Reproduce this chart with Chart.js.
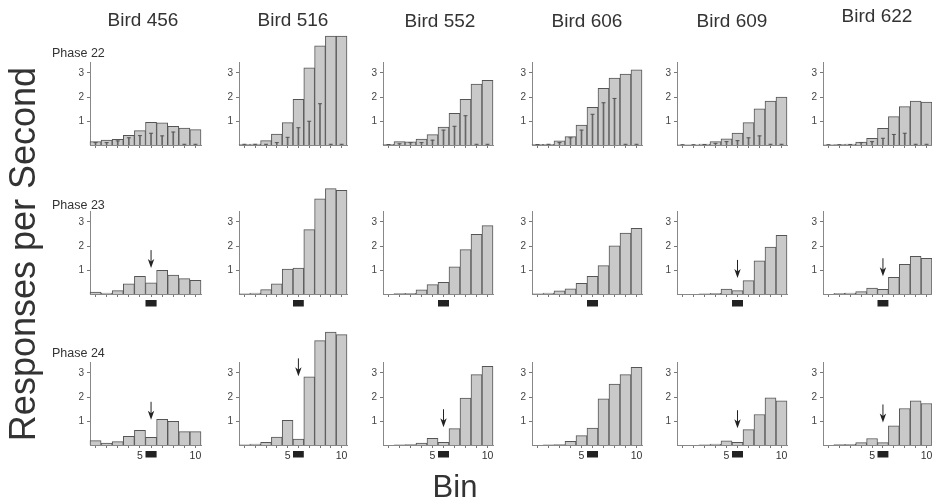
<!DOCTYPE html>
<html>
<head>
<meta charset="utf-8">
<script src="https://cdn.jsdelivr.net/npm/chart.js@4"></script>
<style>
body { margin:0; background:#fff; width:932px; height:504px; overflow:hidden; position:relative;
       font-family:"Liberation Sans", Arial, sans-serif; color:#222; }
.panel { position:absolute; }
.lbl { position:absolute; white-space:nowrap; transform:translate(-50%,-50%); }
</style>
</head>
<body>
<script>
// ---- data ----
var bins = ['1','2','3','4','5','6','7','8','9','10'];
var birds = ['Bird 456','Bird 516','Bird 552','Bird 606','Bird 609','Bird 622'];
var phases = ['Phase 22','Phase 23','Phase 24'];

// responses per second, one row per bird
var phase22Rates = [
  [0.14,0.2,0.24,0.4,0.6,0.94,0.92,0.78,0.71,0.64],
  [0.02,0.04,0.18,0.46,0.93,1.9,3.22,4.13,4.54,4.54],
  [0.03,0.14,0.13,0.25,0.43,0.75,1.32,1.9,2.54,2.69],
  [0.03,0.03,0.17,0.35,0.83,1.57,2.36,2.79,2.96,3.13],
  [0.01,0.01,0.04,0.14,0.26,0.5,0.93,1.51,1.83,2.0],
  [0.01,0.02,0.04,0.12,0.28,0.69,1.18,1.6,1.83,1.79]
];
// thin lines inside the phase 22 bars
var phase22Inner = [
  [0.1,0.1,0.17,0.3,0.39,0.49,0.38,0.54,0.03,0.03],
  [0.03,0.03,0.03,0.1,0.32,0.72,0.99,1.72,0.03,0.03],
  [0.02,0.05,0.1,0.1,0.2,0.62,0.78,1.22,0.03,0.03],
  [0.02,0.03,0.1,0.3,0.62,1.28,1.76,1.94,0.03,0.03],
  [0.01,0.01,0.02,0.07,0.14,0.18,0.3,0.38,0.03,0.03],
  [0.01,0.01,0.02,0.1,0.14,0.28,0.44,0.49,0.03,0.03]
];
var phase23Rates = [
  [0.08,0.04,0.14,0.42,0.74,0.47,0.99,0.79,0.64,0.57],
  [0.01,0.04,0.18,0.42,1.04,1.08,2.68,3.97,4.39,4.32],
  [0,0.02,0.03,0.17,0.39,0.49,1.13,1.85,2.49,2.85],
  [0.01,0.04,0.13,0.22,0.44,0.74,1.18,2.01,2.54,2.74],
  [0,0,0.01,0.03,0.21,0.14,0.56,1.38,1.96,2.44],
  [0,0.03,0.04,0.1,0.25,0.19,0.69,1.24,1.57,1.49]
];
var phase24Rates = [
  [0.18,0.08,0.14,0.36,0.61,0.32,1.07,0.99,0.56,0.56],
  [0.01,0.04,0.11,0.33,1.03,0.25,2.84,4.35,4.71,4.6],
  [0,0.01,0.02,0.08,0.28,0.11,0.68,1.95,2.93,3.28],
  [0,0.01,0.02,0.15,0.39,0.71,1.92,2.54,2.93,3.24],
  [0,0,0.01,0.04,0.17,0.11,0.64,1.27,1.97,1.84],
  [0,0.02,0.03,0.1,0.27,0.1,0.8,1.52,1.84,1.73]
];
// arrow tip (responses/s) over bin 6, null = no arrow
var phase22Arrow = [null,null,null,null,null,null];
var phase23Arrow = [1.08,null,null,null,0.67,0.74];
var phase24Arrow = [1.05,2.86,0.74,null,0.7,0.94];
var cueBin = 6;
var yTicks = [1,2,3];
var labeledBins = ['5','10'];

var rates = [phase22Rates, phase23Rates, phase24Rates];
var arrows = [phase22Arrow, phase23Arrow, phase24Arrow];

// ---- layout ----
var colX = [90,239,383,532,677,823];
var colW = [111,108,110,110,110,109];
var rowBase = [145,294,445];
var unit = 24;       // px per 1 response/s
var yTop = 3.45;     // where the y axis line stops
var PL = 32, PR = 6, PT = 125, PB = 28;
var FONT = '"Liberation Sans", Arial, sans-serif';

function label(text, x, y, size, extra) {
  var d = document.createElement('div');
  d.className = 'lbl';
  d.textContent = text;
  d.style.left = x + 'px';
  d.style.top = y + 'px';
  d.style.fontSize = size + 'px';
  if (extra) Object.assign(d.style, extra);
  document.body.appendChild(d);
}

function makePanel(r, c) {
  var div = document.createElement('div');
  div.className = 'panel';
  div.style.left = (colX[c] - PL) + 'px';
  div.style.top = (rowBase[r] - PT) + 'px';
  div.style.width = (PL + colW[c] + PR) + 'px';
  div.style.height = (PT + PB) + 'px';
  var cv = document.createElement('canvas');
  div.appendChild(cv);
  document.body.appendChild(div);

  var datasets = [{
    type: 'bar', data: rates[r][c],
    backgroundColor: '#c9c9c9', borderColor: '#555', borderWidth: 1,
    categoryPercentage: 1, barPercentage: 1, clip: false, order: 2
  }];
  if (r === 0) {
    datasets.push({
      type: 'bar', data: phase22Inner[c], grouped: false,
      backgroundColor: '#666', borderWidth: 0, barThickness: 1, order: 1
    });
    datasets.push({
      type: 'line', data: phase22Inner[c], showLine: false,
      pointStyle: 'line', pointRadius: 2, pointBorderWidth: 1,
      pointBorderColor: '#555', borderColor: '#555', order: 0
    });
  }

  var tip = arrows[r][c];
  var marks = {
    id: 'marks',
    afterDatasetsDraw: function (chart) {
      var ctx = chart.ctx, xs = chart.scales.x, ys = chart.scales.y;
      var half = xs.width / bins.length / 2;
      var cx = xs.getPixelForValue(cueBin - 1);
      var y0 = ys.getPixelForValue(0);
      ctx.save();
      ctx.fillStyle = '#222';
      if (r > 0) ctx.fillRect(cx - half, y0 + 6, half * 2, 6.5);
      if (tip != null) {
        var yt = ys.getPixelForValue(tip);
        ctx.strokeStyle = '#222';
        ctx.lineWidth = 1;
        ctx.beginPath();
        ctx.moveTo(cx, yt - 18);
        ctx.lineTo(cx, yt - 6);
        ctx.stroke();
        ctx.beginPath();
        ctx.moveTo(cx - 3.2, yt - 9);
        ctx.lineTo(cx, yt - 6.5);
        ctx.lineTo(cx + 3.2, yt - 9);
        ctx.lineTo(cx, yt);
        ctx.closePath();
        ctx.fill();
      }
      ctx.restore();
    }
  };

  new Chart(cv, {
    data: { labels: bins, datasets: datasets },
    options: {
      responsive: true, maintainAspectRatio: false, animation: false,
      layout: { padding: { top: PT - yTop * unit, right: PR, left: 0, bottom: 0 } },
      plugins: { legend: { display: false }, tooltip: { enabled: false } },
      scales: {
        x: {
          type: 'category', offset: true,
          grid: { offset: false, drawOnChartArea: false, tickLength: 3, color: '#777' },
          border: { display: true, color: '#888' },
          ticks: {
            autoSkip: false, maxRotation: 0, padding: 2, color: '#333',
            font: { size: 10.5, family: FONT },
            callback: function (v, i) {
              return (r === 2 && labeledBins.indexOf(bins[i]) >= 0) ? bins[i] : '';
            }
          },
          afterFit: function (s) { s.height = PB; }
        },
        y: {
          min: 0, max: yTop,
          afterBuildTicks: function (s) { s.ticks = yTicks.map(function (v) { return { value: v }; }); },
          grid: { drawOnChartArea: false, tickLength: 3, color: '#777' },
          border: { display: true, color: '#888' },
          ticks: { padding: 3, color: '#444', font: { size: 10, family: FONT } },
          afterFit: function (s) { s.width = PL; }
        }
      }
    },
    plugins: [marks]
  });
}

for (var r = 0; r < 3; r++) for (var c = 0; c < 6; c++) makePanel(r, c);

var titleX = [143,293,440,587,732,877];
var titleY = [20,20,21,21,21,16];
birds.forEach(function (b, i) { label(b, titleX[i], titleY[i], 19, { color: '#333' }); });
var phaseY = [53,205,353];
phases.forEach(function (p, i) {
  label(p, 52, phaseY[i], 12.5, { transform: 'translate(0,-50%)', color: '#333' });
});
label('Responses per Second', 23, 254, 36, { transform: 'translate(-50%,-50%) rotate(-90deg)', color: '#333' });
label('Bin', 455, 487, 31, { color: '#333' });
</script>
</body>
</html>
